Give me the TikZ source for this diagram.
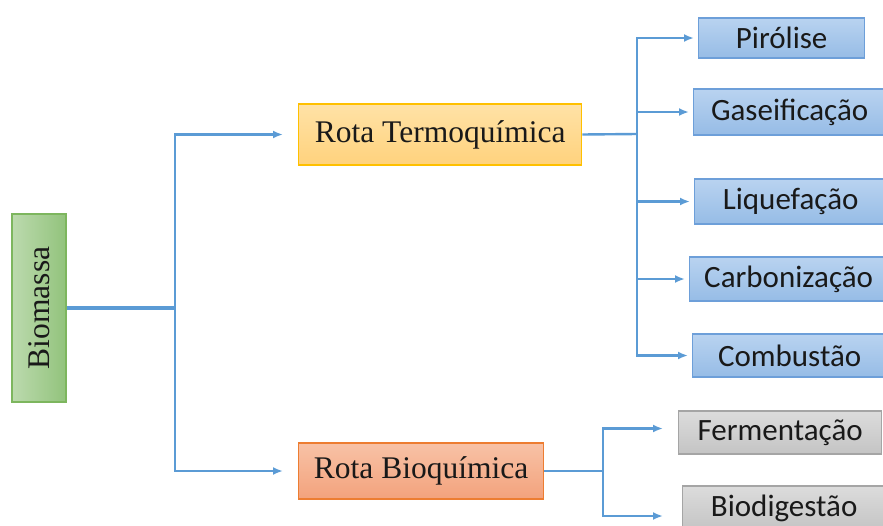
\documentclass[tikz,border=0pt]{standalone}
\usepackage{fontspec}
\setmainfont{Liberation Serif}
\newfontfamily\labelfont{Carlito}
\usetikzlibrary{arrows,arrows.meta}
\usetikzlibrary{calc,positioning}

\definecolor{linkblue}{HTML}{5B9BD5}
\definecolor{edgeblue}{HTML}{6D9FD9}
\definecolor{edgegold}{HTML}{FFC000}
\definecolor{edgeorange}{HTML}{ED7D31}
\definecolor{edgegray}{HTML}{A5A5A5}
\definecolor{edgegreen}{HTML}{7DB65E}

\begin{document}
\begin{tikzpicture}[x=1pt,y=-1pt,>={Latex[length=10pt,width=8pt]},
  box/.style={draw, line width=1.3pt, inner sep=0pt, anchor=west, text=black!90},
  route/.style={box, font=\fontsize{31.5}{36}\selectfont},
  stepbox/.style={box, font=\labelfont\fontsize{31}{36}\selectfont,
    draw=edgeblue, top color={rgb,255:red,185;green,211;blue,240},
    bottom color={rgb,255:red,150;green,188;blue,230}},
  greybox/.style={stepbox, draw=edgegray, top color={rgb,255:red,220;green,220;blue,220},
    bottom color={rgb,255:red,196;green,196;blue,196}},
  link/.style={draw=linkblue, line width=2.4pt},
  arrowlink/.style={link, ->, shorten >=4pt}]

\clip (0,0) rectangle (883,525);

\node[box, anchor=center, minimum width=54pt, minimum height=188pt, draw=edgegreen,
      left color={rgb,255:red,188;green,218;blue,174},
      right color={rgb,255:red,146;green,195;blue,124},
      font=\fontsize{31.5}{36}\selectfont] (biomassa) at (39,308) {\rotatebox{90}{Biomassa}};

\node[route, minimum width=283pt, minimum height=61pt, draw=edgegold,
      top color={rgb,255:red,255;green,226;blue,166},
      bottom color={rgb,255:red,255;green,210;blue,125}] (termo) at (298,134.5) {Rota Termoquímica};
\node[route, minimum width=245pt, minimum height=56pt, draw=edgeorange,
      top color={rgb,255:red,248;green,194;blue,166},
      bottom color={rgb,255:red,243;green,162;blue,124}] (bio) at (298,471) {Rota Bioquímica};

\node[stepbox, minimum width=166pt, minimum height=40pt] (pirolise) at (698,38) {Pirólise};
\node[stepbox, minimum width=192pt, minimum height=46pt] (gaseif) at (693,112) {Gaseificação};
\node[stepbox, minimum width=192pt, minimum height=45pt] (liquef) at (694,201.5) {Liquefação};
\node[stepbox, minimum width=198pt, minimum height=44pt] (carbon) at (689,279) {Carbonização};
\node[stepbox, minimum width=194pt, minimum height=43pt] (combust) at (692,355.5) {Combustão};

\node[greybox, minimum width=203pt, minimum height=43pt] (ferment) at (678,432.5) {Fermentação};
\node[greybox, minimum width=203pt, minimum height=44pt] (biodig) at (682,508) {Biodigestão};

\coordinate (jA) at (175,308);
\coordinate (jB) at (637,134);
\coordinate (jC) at (603,471);

\draw[link, line width=3.5pt] (biomassa.east) -- (jA);
\draw[arrowlink, shorten >=15pt] (jA) |- (termo.west);
\draw[arrowlink, shorten >=15pt] (jA) |- (bio.west);

\draw[link] (termo.east) -- (jB);
\foreach \leaf in {pirolise,gaseif,liquef,carbon,combust}
  \draw[arrowlink] (jB) |- (\leaf.west);

\draw[link] (bio.east) -- (jC);
\draw[arrowlink, shorten >=15pt] (jC) |- ([yshift=4pt]ferment.west);
\draw[arrowlink, shorten >=19pt] (jC) |- ([yshift=-8pt]biodig.west);

\end{tikzpicture}
\end{document}
